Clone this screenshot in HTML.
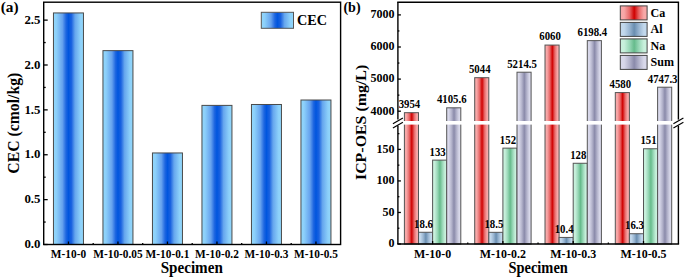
<!DOCTYPE html>
<html><head><meta charset="utf-8"><style>
html,body{margin:0;padding:0;background:#fff;width:685px;height:278px;overflow:hidden}
svg{display:block}
</style></head><body>
<svg width="685" height="278" viewBox="0 0 685 278"><defs><linearGradient id="gCEC" x1="0" y1="0" x2="1" y2="0"><stop offset="0" stop-color="#92d7fb"/><stop offset="0.1" stop-color="#8cd0fa"/><stop offset="0.3" stop-color="#66a2ee"/><stop offset="0.42" stop-color="#1e66e0"/><stop offset="0.5" stop-color="#0055de"/><stop offset="0.6" stop-color="#1a62e0"/><stop offset="0.72" stop-color="#66a6ee"/><stop offset="0.9" stop-color="#8cd0fa"/><stop offset="1" stop-color="#92d7fb"/></linearGradient><linearGradient id="gCa" x1="0" y1="0" x2="1" y2="0"><stop offset="0" stop-color="#f7a8a8"/><stop offset="0.14" stop-color="#f7a8a8"/><stop offset="0.34" stop-color="#e86a6a"/><stop offset="0.52" stop-color="#d00000"/><stop offset="0.7" stop-color="#e86a6a"/><stop offset="0.88" stop-color="#f7a8a8"/><stop offset="1" stop-color="#f7a8a8"/></linearGradient><linearGradient id="gAl" x1="0" y1="0" x2="1" y2="0"><stop offset="0" stop-color="#c2d8ec"/><stop offset="0.14" stop-color="#c2d8ec"/><stop offset="0.34" stop-color="#9ab6d2"/><stop offset="0.52" stop-color="#6a8eb0"/><stop offset="0.7" stop-color="#9ab6d2"/><stop offset="0.88" stop-color="#c2d8ec"/><stop offset="1" stop-color="#c2d8ec"/></linearGradient><linearGradient id="gNa" x1="0" y1="0" x2="1" y2="0"><stop offset="0" stop-color="#c8f0dc"/><stop offset="0.14" stop-color="#c8f0dc"/><stop offset="0.34" stop-color="#9ad8b8"/><stop offset="0.52" stop-color="#66bb8c"/><stop offset="0.7" stop-color="#9ad8b8"/><stop offset="0.88" stop-color="#c8f0dc"/><stop offset="1" stop-color="#c8f0dc"/></linearGradient><linearGradient id="gSum" x1="0" y1="0" x2="1" y2="0"><stop offset="0" stop-color="#d8d8ea"/><stop offset="0.14" stop-color="#d8d8ea"/><stop offset="0.34" stop-color="#b4b4cc"/><stop offset="0.52" stop-color="#8a8aaa"/><stop offset="0.7" stop-color="#b4b4cc"/><stop offset="0.88" stop-color="#d8d8ea"/><stop offset="1" stop-color="#d8d8ea"/></linearGradient></defs><rect width="685" height="278" fill="#fff"/>
<rect x="53.45" y="12.94" width="30" height="231.56" fill="url(#gCEC)" stroke="#4a4a4a" stroke-width="1"/>
<rect x="102.95" y="50.64" width="30" height="193.86" fill="url(#gCEC)" stroke="#4a4a4a" stroke-width="1"/>
<rect x="152.45" y="152.95" width="30" height="91.55" fill="url(#gCEC)" stroke="#4a4a4a" stroke-width="1"/>
<rect x="201.95" y="105.39" width="30" height="139.11" fill="url(#gCEC)" stroke="#4a4a4a" stroke-width="1"/>
<rect x="251.45" y="104.49" width="30" height="140.01" fill="url(#gCEC)" stroke="#4a4a4a" stroke-width="1"/>
<rect x="300.95" y="100" width="30" height="144.5" fill="url(#gCEC)" stroke="#4a4a4a" stroke-width="1"/>
<rect x="43.7" y="2.2" width="296.9" height="242.3" fill="none" stroke="#000" stroke-width="1.4"/>
<line x1="43.7" y1="244.5" x2="47.7" y2="244.5" stroke="#000" stroke-width="1.3"/>
<text transform="translate(40.5,243.6) scale(0.960,1)" text-anchor="end" dominant-baseline="central" style="font-family:'Liberation Serif', serif;font-weight:bold;fill:#000;font-size:13.4px">0.0</text>
<line x1="43.7" y1="222.06" x2="45.7" y2="222.06" stroke="#000" stroke-width="1.3"/>
<line x1="43.7" y1="199.62" x2="47.7" y2="199.62" stroke="#000" stroke-width="1.3"/>
<text transform="translate(40.5,198.72) scale(0.960,1)" text-anchor="end" dominant-baseline="central" style="font-family:'Liberation Serif', serif;font-weight:bold;fill:#000;font-size:13.4px">0.5</text>
<line x1="43.7" y1="177.19" x2="45.7" y2="177.19" stroke="#000" stroke-width="1.3"/>
<line x1="43.7" y1="154.75" x2="47.7" y2="154.75" stroke="#000" stroke-width="1.3"/>
<text transform="translate(40.5,153.85) scale(0.960,1)" text-anchor="end" dominant-baseline="central" style="font-family:'Liberation Serif', serif;font-weight:bold;fill:#000;font-size:13.4px">1.0</text>
<line x1="43.7" y1="132.31" x2="45.7" y2="132.31" stroke="#000" stroke-width="1.3"/>
<line x1="43.7" y1="109.88" x2="47.7" y2="109.88" stroke="#000" stroke-width="1.3"/>
<text transform="translate(40.5,108.97) scale(0.960,1)" text-anchor="end" dominant-baseline="central" style="font-family:'Liberation Serif', serif;font-weight:bold;fill:#000;font-size:13.4px">1.5</text>
<line x1="43.7" y1="87.44" x2="45.7" y2="87.44" stroke="#000" stroke-width="1.3"/>
<line x1="43.7" y1="65" x2="47.7" y2="65" stroke="#000" stroke-width="1.3"/>
<text transform="translate(40.5,64.1) scale(0.960,1)" text-anchor="end" dominant-baseline="central" style="font-family:'Liberation Serif', serif;font-weight:bold;fill:#000;font-size:13.4px">2.0</text>
<line x1="43.7" y1="42.56" x2="45.7" y2="42.56" stroke="#000" stroke-width="1.3"/>
<line x1="43.7" y1="20.12" x2="47.7" y2="20.12" stroke="#000" stroke-width="1.3"/>
<text transform="translate(40.5,19.23) scale(0.960,1)" text-anchor="end" dominant-baseline="central" style="font-family:'Liberation Serif', serif;font-weight:bold;fill:#000;font-size:13.4px">2.5</text>
<line x1="68.45" y1="244.5" x2="68.45" y2="241.5" stroke="#000" stroke-width="1.3"/>
<text transform="translate(68.45,257.7) scale(0.930,1)" text-anchor="middle" style="font-family:'Liberation Serif', serif;font-weight:bold;fill:#000;font-size:12.2px">M-10-0</text>
<line x1="117.95" y1="244.5" x2="117.95" y2="241.5" stroke="#000" stroke-width="1.3"/>
<text transform="translate(117.95,257.7) scale(0.930,1)" text-anchor="middle" style="font-family:'Liberation Serif', serif;font-weight:bold;fill:#000;font-size:12.2px">M-10-0.05</text>
<line x1="93.2" y1="244.5" x2="93.2" y2="243" stroke="#000" stroke-width="1.3"/>
<line x1="167.45" y1="244.5" x2="167.45" y2="241.5" stroke="#000" stroke-width="1.3"/>
<text transform="translate(167.45,257.7) scale(0.930,1)" text-anchor="middle" style="font-family:'Liberation Serif', serif;font-weight:bold;fill:#000;font-size:12.2px">M-10-0.1</text>
<line x1="142.7" y1="244.5" x2="142.7" y2="243" stroke="#000" stroke-width="1.3"/>
<line x1="216.95" y1="244.5" x2="216.95" y2="241.5" stroke="#000" stroke-width="1.3"/>
<text transform="translate(216.95,257.7) scale(0.930,1)" text-anchor="middle" style="font-family:'Liberation Serif', serif;font-weight:bold;fill:#000;font-size:12.2px">M-10-0.2</text>
<line x1="192.2" y1="244.5" x2="192.2" y2="243" stroke="#000" stroke-width="1.3"/>
<line x1="266.45" y1="244.5" x2="266.45" y2="241.5" stroke="#000" stroke-width="1.3"/>
<text transform="translate(266.45,257.7) scale(0.930,1)" text-anchor="middle" style="font-family:'Liberation Serif', serif;font-weight:bold;fill:#000;font-size:12.2px">M-10-0.3</text>
<line x1="241.7" y1="244.5" x2="241.7" y2="243" stroke="#000" stroke-width="1.3"/>
<line x1="315.95" y1="244.5" x2="315.95" y2="241.5" stroke="#000" stroke-width="1.3"/>
<text transform="translate(315.95,257.7) scale(0.930,1)" text-anchor="middle" style="font-family:'Liberation Serif', serif;font-weight:bold;fill:#000;font-size:12.2px">M-10-0.5</text>
<line x1="291.2" y1="244.5" x2="291.2" y2="243" stroke="#000" stroke-width="1.3"/>
<text transform="translate(191.75,272.9) scale(0.875,1)" text-anchor="middle" style="font-family:'Liberation Serif', serif;font-weight:bold;fill:#000;font-size:17.3px">Specimen</text>
<text transform="translate(19.4,123.2) rotate(-90) scale(0.926,1)" text-anchor="middle" style="font-family:'Liberation Serif', serif;font-weight:bold;fill:#000;font-size:17px">CEC (cmol/kg)</text>
<text transform="translate(0.7,12.1)" text-anchor="start" style="font-family:'Liberation Serif', serif;font-weight:bold;fill:#000;font-size:15.3px">(a)</text>
<rect x="261.3" y="12.3" width="32.2" height="16" fill="url(#gCEC)" stroke="#555" stroke-width="1"/>
<text transform="translate(296.9,25.4) scale(0.960,1)" text-anchor="start" style="font-family:'Liberation Serif', serif;font-weight:bold;fill:#000;font-size:14.8px">CEC</text>
<rect x="404.4" y="112.68" width="14.1" height="131.32" fill="url(#gCa)" stroke="#555" stroke-width="1"/>
<rect x="418.5" y="232.27" width="14.1" height="11.73" fill="url(#gAl)" stroke="#555" stroke-width="1"/>
<rect x="432.6" y="160.12" width="14.1" height="83.88" fill="url(#gNa)" stroke="#555" stroke-width="1"/>
<rect x="446.7" y="107.81" width="14.1" height="136.19" fill="url(#gSum)" stroke="#555" stroke-width="1"/>
<rect x="474.7" y="77.69" width="14.1" height="166.31" fill="url(#gCa)" stroke="#555" stroke-width="1"/>
<rect x="488.8" y="232.33" width="14.1" height="11.67" fill="url(#gAl)" stroke="#555" stroke-width="1"/>
<rect x="502.9" y="148.13" width="14.1" height="95.87" fill="url(#gNa)" stroke="#555" stroke-width="1"/>
<rect x="517" y="72.21" width="14.1" height="171.79" fill="url(#gSum)" stroke="#555" stroke-width="1"/>
<rect x="545" y="45.07" width="14.1" height="198.93" fill="url(#gCa)" stroke="#555" stroke-width="1"/>
<rect x="559.1" y="237.44" width="14.1" height="6.56" fill="url(#gAl)" stroke="#555" stroke-width="1"/>
<rect x="573.2" y="163.27" width="14.1" height="80.73" fill="url(#gNa)" stroke="#555" stroke-width="1"/>
<rect x="587.3" y="40.63" width="14.1" height="203.37" fill="url(#gSum)" stroke="#555" stroke-width="1"/>
<rect x="615.3" y="92.58" width="14.1" height="151.42" fill="url(#gCa)" stroke="#555" stroke-width="1"/>
<rect x="629.4" y="233.72" width="14.1" height="10.28" fill="url(#gAl)" stroke="#555" stroke-width="1"/>
<rect x="643.5" y="148.76" width="14.1" height="95.24" fill="url(#gNa)" stroke="#555" stroke-width="1"/>
<rect x="657.6" y="87.21" width="14.1" height="156.79" fill="url(#gSum)" stroke="#555" stroke-width="1"/>
<rect x="398.9" y="121" width="278.5" height="3.6" fill="#fff"/>
<text transform="translate(409.45,108.08) scale(0.870,1)" text-anchor="middle" style="font-family:'Liberation Serif', serif;font-weight:bold;fill:#000;font-size:12.4px">3954</text>
<text transform="translate(423.55,227.67) scale(0.870,1)" text-anchor="middle" style="font-family:'Liberation Serif', serif;font-weight:bold;fill:#000;font-size:12.4px">18.6</text>
<text transform="translate(437.65,155.52) scale(0.870,1)" text-anchor="middle" style="font-family:'Liberation Serif', serif;font-weight:bold;fill:#000;font-size:12.4px">133</text>
<text transform="translate(451.75,103.21) scale(0.870,1)" text-anchor="middle" style="font-family:'Liberation Serif', serif;font-weight:bold;fill:#000;font-size:12.4px">4105.6</text>
<text transform="translate(479.75,73.09) scale(0.870,1)" text-anchor="middle" style="font-family:'Liberation Serif', serif;font-weight:bold;fill:#000;font-size:12.4px">5044</text>
<text transform="translate(493.85,227.73) scale(0.870,1)" text-anchor="middle" style="font-family:'Liberation Serif', serif;font-weight:bold;fill:#000;font-size:12.4px">18.5</text>
<text transform="translate(507.95,143.53) scale(0.870,1)" text-anchor="middle" style="font-family:'Liberation Serif', serif;font-weight:bold;fill:#000;font-size:12.4px">152</text>
<text transform="translate(522.05,67.61) scale(0.870,1)" text-anchor="middle" style="font-family:'Liberation Serif', serif;font-weight:bold;fill:#000;font-size:12.4px">5214.5</text>
<text transform="translate(550.05,40.47) scale(0.870,1)" text-anchor="middle" style="font-family:'Liberation Serif', serif;font-weight:bold;fill:#000;font-size:12.4px">6060</text>
<text transform="translate(564.15,232.84) scale(0.870,1)" text-anchor="middle" style="font-family:'Liberation Serif', serif;font-weight:bold;fill:#000;font-size:12.4px">10.4</text>
<text transform="translate(578.25,158.67) scale(0.870,1)" text-anchor="middle" style="font-family:'Liberation Serif', serif;font-weight:bold;fill:#000;font-size:12.4px">128</text>
<text transform="translate(592.35,36.03) scale(0.870,1)" text-anchor="middle" style="font-family:'Liberation Serif', serif;font-weight:bold;fill:#000;font-size:12.4px">6198.4</text>
<text transform="translate(620.35,87.98) scale(0.870,1)" text-anchor="middle" style="font-family:'Liberation Serif', serif;font-weight:bold;fill:#000;font-size:12.4px">4580</text>
<text transform="translate(634.45,229.12) scale(0.870,1)" text-anchor="middle" style="font-family:'Liberation Serif', serif;font-weight:bold;fill:#000;font-size:12.4px">16.3</text>
<text transform="translate(648.55,144.16) scale(0.870,1)" text-anchor="middle" style="font-family:'Liberation Serif', serif;font-weight:bold;fill:#000;font-size:12.4px">151</text>
<text transform="translate(662.65,82.61) scale(0.870,1)" text-anchor="middle" style="font-family:'Liberation Serif', serif;font-weight:bold;fill:#000;font-size:12.4px">4747.3</text>
<line x1="397.2" y1="2.2" x2="679.1" y2="2.2" stroke="#000" stroke-width="1.4"/>
<line x1="397.2" y1="244" x2="679.1" y2="244" stroke="#000" stroke-width="1.4"/>
<line x1="397.9" y1="2.2" x2="397.9" y2="119.6" stroke="#000" stroke-width="1.4"/>
<line x1="397.9" y1="125.8" x2="397.9" y2="244" stroke="#000" stroke-width="1.4"/>
<line x1="392.9" y1="123.7" x2="402.9" y2="118.1" stroke="#000" stroke-width="1.2"/>
<line x1="392.9" y1="127.9" x2="402.9" y2="122.3" stroke="#000" stroke-width="1.2"/>
<line x1="678.4" y1="2.2" x2="678.4" y2="119.6" stroke="#000" stroke-width="1.4"/>
<line x1="678.4" y1="125.8" x2="678.4" y2="244" stroke="#000" stroke-width="1.4"/>
<line x1="673.4" y1="123.7" x2="683.4" y2="118.1" stroke="#000" stroke-width="1.2"/>
<line x1="673.4" y1="127.9" x2="683.4" y2="122.3" stroke="#000" stroke-width="1.2"/>
<line x1="397.9" y1="111.2" x2="400.9" y2="111.2" stroke="#000" stroke-width="1.3"/>
<text transform="translate(394.5,110.3) scale(0.900,1)" text-anchor="end" dominant-baseline="central" style="font-family:'Liberation Serif', serif;font-weight:bold;fill:#000;font-size:13.4px">4000</text>
<line x1="397.9" y1="95.15" x2="399.4" y2="95.15" stroke="#000" stroke-width="1.3"/>
<line x1="397.9" y1="79.1" x2="400.9" y2="79.1" stroke="#000" stroke-width="1.3"/>
<text transform="translate(394.5,78.2) scale(0.900,1)" text-anchor="end" dominant-baseline="central" style="font-family:'Liberation Serif', serif;font-weight:bold;fill:#000;font-size:13.4px">5000</text>
<line x1="397.9" y1="63.05" x2="399.4" y2="63.05" stroke="#000" stroke-width="1.3"/>
<line x1="397.9" y1="47" x2="400.9" y2="47" stroke="#000" stroke-width="1.3"/>
<text transform="translate(394.5,46.1) scale(0.900,1)" text-anchor="end" dominant-baseline="central" style="font-family:'Liberation Serif', serif;font-weight:bold;fill:#000;font-size:13.4px">6000</text>
<line x1="397.9" y1="30.95" x2="399.4" y2="30.95" stroke="#000" stroke-width="1.3"/>
<line x1="397.9" y1="14.9" x2="400.9" y2="14.9" stroke="#000" stroke-width="1.3"/>
<text transform="translate(394.5,14) scale(0.900,1)" text-anchor="end" dominant-baseline="central" style="font-family:'Liberation Serif', serif;font-weight:bold;fill:#000;font-size:13.4px">7000</text>
<line x1="397.9" y1="244" x2="400.9" y2="244" stroke="#000" stroke-width="1.3"/>
<text transform="translate(394.5,243.1) scale(0.900,1)" text-anchor="end" dominant-baseline="central" style="font-family:'Liberation Serif', serif;font-weight:bold;fill:#000;font-size:13.4px">0</text>
<line x1="397.9" y1="228.23" x2="399.4" y2="228.23" stroke="#000" stroke-width="1.3"/>
<line x1="397.9" y1="212.47" x2="400.9" y2="212.47" stroke="#000" stroke-width="1.3"/>
<text transform="translate(394.5,211.56) scale(0.900,1)" text-anchor="end" dominant-baseline="central" style="font-family:'Liberation Serif', serif;font-weight:bold;fill:#000;font-size:13.4px">50</text>
<line x1="397.9" y1="196.7" x2="399.4" y2="196.7" stroke="#000" stroke-width="1.3"/>
<line x1="397.9" y1="180.93" x2="400.9" y2="180.93" stroke="#000" stroke-width="1.3"/>
<text transform="translate(394.5,180.03) scale(0.900,1)" text-anchor="end" dominant-baseline="central" style="font-family:'Liberation Serif', serif;font-weight:bold;fill:#000;font-size:13.4px">100</text>
<line x1="397.9" y1="165.16" x2="399.4" y2="165.16" stroke="#000" stroke-width="1.3"/>
<line x1="397.9" y1="149.39" x2="400.9" y2="149.39" stroke="#000" stroke-width="1.3"/>
<text transform="translate(394.5,148.49) scale(0.900,1)" text-anchor="end" dominant-baseline="central" style="font-family:'Liberation Serif', serif;font-weight:bold;fill:#000;font-size:13.4px">150</text>
<line x1="397.9" y1="133.63" x2="399.4" y2="133.63" stroke="#000" stroke-width="1.3"/>
<text transform="translate(432.6,257.7) scale(0.980,1)" text-anchor="middle" style="font-family:'Liberation Serif', serif;font-weight:bold;fill:#000;font-size:12.2px">M-10-0</text>
<line x1="432.6" y1="244" x2="432.6" y2="241" stroke="#000" stroke-width="1.3"/>
<text transform="translate(502.9,257.7) scale(0.980,1)" text-anchor="middle" style="font-family:'Liberation Serif', serif;font-weight:bold;fill:#000;font-size:12.2px">M-10-0.2</text>
<line x1="502.9" y1="244" x2="502.9" y2="241" stroke="#000" stroke-width="1.3"/>
<line x1="467.75" y1="244" x2="467.75" y2="242.5" stroke="#000" stroke-width="1.3"/>
<text transform="translate(573.2,257.7) scale(0.980,1)" text-anchor="middle" style="font-family:'Liberation Serif', serif;font-weight:bold;fill:#000;font-size:12.2px">M-10-0.3</text>
<line x1="573.2" y1="244" x2="573.2" y2="241" stroke="#000" stroke-width="1.3"/>
<line x1="538.05" y1="244" x2="538.05" y2="242.5" stroke="#000" stroke-width="1.3"/>
<text transform="translate(643.5,257.7) scale(0.980,1)" text-anchor="middle" style="font-family:'Liberation Serif', serif;font-weight:bold;fill:#000;font-size:12.2px">M-10-0.5</text>
<line x1="643.5" y1="244" x2="643.5" y2="241" stroke="#000" stroke-width="1.3"/>
<line x1="608.35" y1="244" x2="608.35" y2="242.5" stroke="#000" stroke-width="1.3"/>
<text transform="translate(538.15,272.8) scale(0.850,1)" text-anchor="middle" style="font-family:'Liberation Serif', serif;font-weight:bold;fill:#000;font-size:17px">Specimen</text>
<text transform="translate(365.5,122.4) rotate(-90) scale(1.020,1)" text-anchor="middle" style="font-family:'Liberation Serif', serif;font-weight:bold;fill:#000;font-size:15.6px">ICP-OES (mg/L)</text>
<text transform="translate(343.4,12) scale(0.920,1)" text-anchor="start" style="font-family:'Liberation Serif', serif;font-weight:bold;fill:#000;font-size:15.3px">(b)</text>
<rect x="620.3" y="5.9" width="26.8" height="14" fill="url(#gCa)" stroke="#444" stroke-width="1"/>
<text transform="translate(650.5,16.5) scale(0.900,1)" text-anchor="start" style="font-family:'Liberation Serif', serif;font-weight:bold;fill:#000;font-size:13.4px">Ca</text>
<rect x="620.3" y="22.4" width="26.8" height="14" fill="url(#gAl)" stroke="#444" stroke-width="1"/>
<text transform="translate(650.5,33) scale(0.900,1)" text-anchor="start" style="font-family:'Liberation Serif', serif;font-weight:bold;fill:#000;font-size:13.4px">Al</text>
<rect x="620.3" y="38.9" width="26.8" height="14" fill="url(#gNa)" stroke="#444" stroke-width="1"/>
<text transform="translate(650.5,49.5) scale(0.900,1)" text-anchor="start" style="font-family:'Liberation Serif', serif;font-weight:bold;fill:#000;font-size:13.4px">Na</text>
<rect x="620.3" y="55.4" width="26.8" height="14" fill="url(#gSum)" stroke="#444" stroke-width="1"/>
<text transform="translate(650.5,66) scale(0.900,1)" text-anchor="start" style="font-family:'Liberation Serif', serif;font-weight:bold;fill:#000;font-size:13.4px">Sum</text>
</svg>
</body></html>
